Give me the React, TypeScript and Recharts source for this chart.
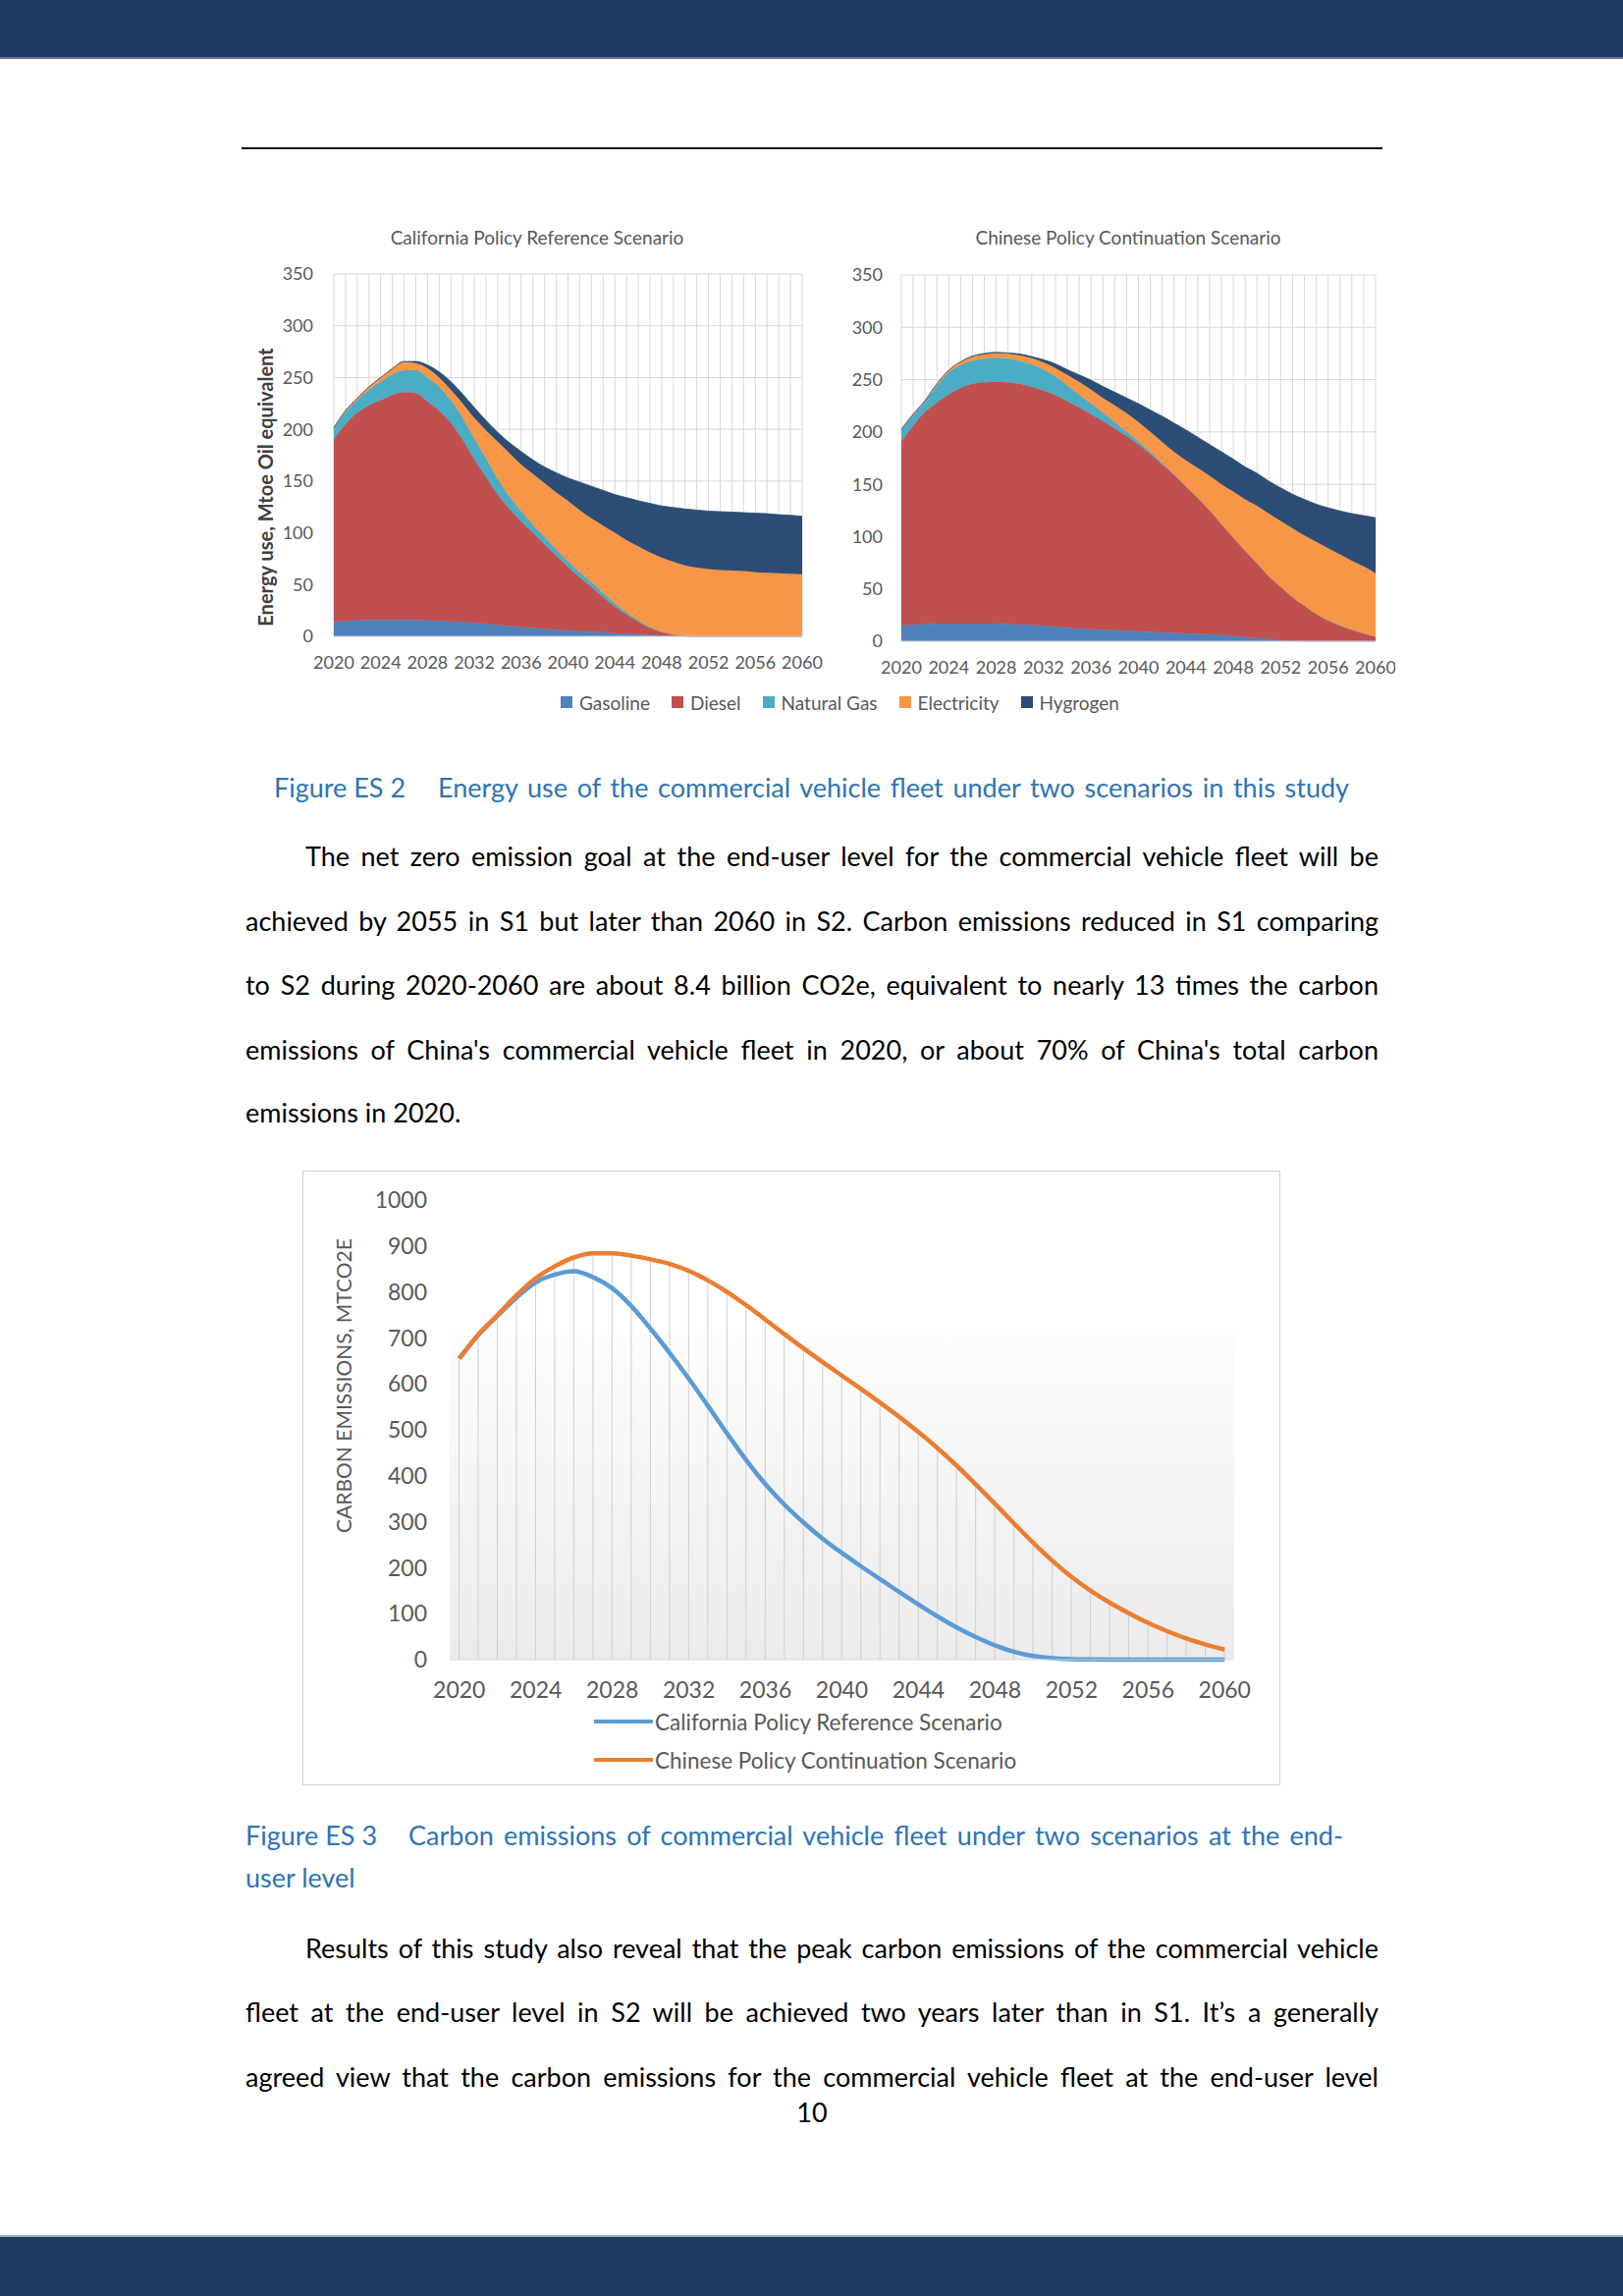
import React from "react";
import {
  AreaChart,
  Area,
  XAxis,
  YAxis,
  CartesianGrid,
  ComposedChart,
  Line,
  Bar,
  ReferenceArea,
} from "recharts";

const FONT = "Lato, 'Open Sans', sans-serif";
const AXIS_GREY = "#595959";
const GRID = "#d9d9d9";
const NAVY = "#1F3864";
const CAPTION = "#2E74B5";

// categories
const years = [
  2020, 2021, 2022, 2023, 2024, 2025, 2026, 2027, 2028, 2029, 2030,
  2031, 2032, 2033, 2034, 2035, 2036, 2037, 2038, 2039, 2040,
  2041, 2042, 2043, 2044, 2045, 2046, 2047, 2048, 2049, 2050,
  2051, 2052, 2053, 2054, 2055, 2056, 2057, 2058, 2059, 2060,
];

// Figure ES 2, California Policy Reference Scenario (Mtoe)
const caGasoline = [
  14, 15, 15.5, 16, 16, 16, 16, 16, 15.5, 15, 14.5,
  14, 13, 12, 11, 10, 9, 8, 7, 6.5, 6,
  5, 4.5, 4, 3, 2.5, 2, 1.5, 1, 0.5, 0.3,
  0, 0, 0, 0, 0, 0, 0, 0, 0, 0,
];
const caDiesel = [
  176, 190, 200.5, 207, 212, 217, 220, 219, 211.5, 203, 191.5,
  176, 158, 142, 126, 113, 102, 92, 82, 71.5, 61,
  52, 43.5, 34, 26, 18.5, 12, 6.5, 3, 1, 0,
  0, 0, 0, 0, 0, 0, 0, 0, 0, 0,
];
const caNaturalGas = [
  11, 11.5, 12, 15, 18, 20, 21, 22, 23, 23, 22,
  21, 20, 18, 15, 12, 10, 8, 7, 6, 5.5,
  5, 4.5, 4, 3, 2, 1.5, 1, 0.5, 0.2, 0,
  0, 0, 0, 0, 0, 0, 0, 0, 0, 0,
];
const caElectricity = [
  0.5, 1.5, 2, 3, 4, 5.5, 8, 7, 9, 9, 10,
  14, 20, 27, 36, 42, 45, 49, 52, 55, 58.5,
  60, 61.5, 65, 68, 70, 71.5, 72, 71.5, 70.3, 68.2,
  66.5, 65, 64, 63.5, 63, 62, 61.5, 61, 60.5, 60,
];
const caHydrogen = [
  0, 0, 0, 0, 0, 0.2, 0.5, 1.5, 3, 5.5, 8,
  9, 10, 9.5, 9, 10, 12.5, 13.5, 15.5, 19, 22,
  27, 31, 34, 37, 41, 44, 47.5, 50, 52.5, 54.5,
  55.5, 56, 56.5, 56.5, 56.5, 57, 57, 56.5, 56.5, 56,
];

// Figure ES 2, Chinese Policy Continuation Scenario (Mtoe)
const cnGasoline = [
  15, 16, 16.5, 17, 17, 17, 17, 17, 17, 16.5, 16,
  15.5, 15, 14, 13, 12, 11.5, 11, 10.5, 10, 9.5,
  9, 8.5, 8, 7.5, 7, 6.5, 6, 5, 4, 3,
  2, 1, 0.5, 0.2, 0, 0, 0, 0, 0, 0,
];
const cnDiesel = [
  176, 190, 202.5, 211, 219, 225, 229, 230.5, 231, 231, 230,
  227.5, 224.5, 221, 216.5, 211.5, 205.5, 199.5, 193, 186, 178.5,
  170, 160.5, 151, 140.5, 130, 118.5, 106, 94, 82.5, 71.5,
  60, 51, 41.5, 33.8, 26, 20, 15, 11, 7.5, 4.4,
];
const cnNaturalGas = [
  11, 10, 10, 16, 21, 22, 22, 22.5, 23, 22.5, 22,
  21.5, 20, 18, 15, 12, 10, 8, 6, 4, 3,
  2, 1, 0.5, 0, 0, 0, 0, 0, 0, 0,
  0, 0, 0, 0, 0, 0, 0, 0, 0, 0,
];
const cnElectricity = [
  0.5, 1, 1, 2, 2, 3, 4, 4, 4.5, 5, 5,
  6, 7, 8, 10, 12.5, 13.5, 14, 16, 18, 18.5,
  19, 20.5, 21.5, 25, 28.5, 33, 38, 44, 49, 55,
  60, 63, 66, 67, 69, 69, 68, 66, 64, 60.6,
];
const cnHydrogen = [
  0, 0, 0, 0, 0, 0, 0.5, 1, 0.5, 0.5, 1.5,
  1.5, 2.5, 4, 5, 6.5, 9, 11, 12.5, 14.5, 17.5,
  21, 24.5, 27.5, 29, 29.5, 30, 31, 31, 31, 31,
  31, 31.5, 32.5, 34.5, 36, 38.5, 41.5, 45, 48.5, 53,
];

// Figure ES 3, carbon emissions (MtCO2e)
const caEmissions = [
  655, 707, 748, 788, 821, 838, 845, 832, 808, 769, 720,
  667, 611, 552, 492, 434, 382, 337, 298, 263, 232,
  203, 175, 147, 120, 94, 70, 49, 31, 17, 8,
  3, 1, 0.3, 0, 0, 0, 0, 0, 0, 0,
];
const cnEmissions = [
  655, 707, 750, 793, 830, 856, 875, 884, 884, 879, 871,
  861, 846, 825, 800, 771, 740, 708, 677, 647, 618,
  589, 559, 528, 495, 460, 422, 381, 339, 296, 254,
  215, 180, 150, 124, 101, 80, 62, 46, 33, 22,
];

const energyTicks = [0, 50, 100, 150, 200, 250, 300, 350];
const emissionTicks = [0, 100, 200, 300, 400, 500, 600, 700, 800, 900, 1000];

const fuelKeys = ["gasoline", "diesel", "naturalGas", "electricity", "hydrogen"];
const fuelNames = ["Gasoline", "Diesel", "Natural Gas", "Electricity", "Hygrogen"];
const fuelColors = ["#4F81BD", "#C0504D", "#4BACC6", "#F79646", "#2C4D75"];

const caEnergy = years.map((year, i) => ({
  year,
  gasoline: caGasoline[i],
  diesel: caDiesel[i],
  naturalGas: caNaturalGas[i],
  electricity: caElectricity[i],
  hydrogen: caHydrogen[i],
}));
const cnEnergy = years.map((year, i) => ({
  year,
  gasoline: cnGasoline[i],
  diesel: cnDiesel[i],
  naturalGas: cnNaturalGas[i],
  electricity: cnElectricity[i],
  hydrogen: cnHydrogen[i],
}));
const emissionData = years.map((year, i) => ({
  year,
  ca: caEmissions[i],
  cn: cnEmissions[i],
  drop: Math.max(caEmissions[i], cnEmissions[i]),
}));

const yearTick = (size: number) => (props: any) => {
  const { x, y, payload } = props;
  if (Number(payload.value) % 4 !== 0) return <g />;
  return (
    <text
      x={x}
      y={y}
      dy="0.71em"
      textAnchor="middle"
      fontSize={size}
      fill={AXIS_GREY}
      fontFamily={FONT}
    >
      {payload.value}
    </text>
  );
};

function EnergyChart({ data, left, width, margin, tickGap }: any) {
  return (
    <div style={{ position: "absolute", left, top: 220 }}>
      <AreaChart width={width} height={480} data={data} margin={margin}>
        <CartesianGrid stroke={GRID} strokeWidth={1} />
        <XAxis
          dataKey="year"
          interval={0}
          tick={yearTick(18)}
          tickLine={false}
          axisLine={{ stroke: GRID }}
          tickMargin={14}
          height={30}
        />
        <YAxis
          type="number"
          domain={[0, 350]}
          ticks={energyTicks}
          width={60}
          tick={{ fontSize: 18, fill: AXIS_GREY, fontFamily: FONT }}
          tickLine={false}
          axisLine={false}
          tickMargin={tickGap}
        />
        {fuelKeys.map((k, i) => (
          <Area
            key={k}
            dataKey={k}
            name={fuelNames[i]}
            stackId="fuel"
            type="monotone"
            fill={fuelColors[i]}
            fillOpacity={1}
            stroke={fuelColors[i]}
            strokeWidth={0.8}
            dot={false}
            activeDot={false}
            isAnimationActive={false}
          />
        ))}
      </AreaChart>
    </div>
  );
}

function Abs({ left, top, style, children }: any) {
  return (
    <div style={{ position: "absolute", left, top, whiteSpace: "nowrap", ...style }}>
      {children}
    </div>
  );
}

// one line of body text, centred on cy
function TextRow({ cy, left = 250, right = 1404, justify = true, color = "#000", children }: any) {
  return (
    <div
      style={{
        position: "absolute",
        left,
        top: cy - 20,
        width: right - left,
        height: 40,
        lineHeight: "40px",
        fontSize: 27,
        color,
        whiteSpace: "nowrap",
        textAlign: justify ? "justify" : "left",
        textAlignLast: justify ? "justify" : "left",
      }}
    >
      {children}
    </div>
  );
}

function Caption({ cy, left, textLeft, right, label, children }: any) {
  return (
    <>
      <TextRow cy={cy} left={left} justify={false} color={CAPTION}>
        {label}
      </TextRow>
      <TextRow cy={cy} left={textLeft} right={right} color={CAPTION}>
        {children}
      </TextRow>
    </>
  );
}

function RotatedLabel({ cx, cy, style, children }: any) {
  return (
    <div
      style={{
        position: "absolute",
        left: cx,
        top: cy,
        transform: "translate(-50%, -50%) rotate(-90deg)",
        whiteSpace: "nowrap",
        ...style,
      }}
    >
      {children}
    </div>
  );
}

export default function App() {
  return (
    <div
      style={{
        position: "absolute",
        left: 0,
        top: 0,
        width: 1653,
        height: 2338,
        background: "#fff",
        overflow: "hidden",
        fontFamily: FONT,
      }}
    >
      {/* page furniture */}
      <div style={{ position: "absolute", left: 0, top: 0, width: 1653, height: 58, background: NAVY }} />
      <div style={{ position: "absolute", left: 0, top: 58, width: 1653, height: 2, background: "#5b6f94" }} />
      <div style={{ position: "absolute", left: 246, top: 150, width: 1162, height: 2, background: "#111" }} />
      <div style={{ position: "absolute", left: 0, top: 2276, width: 1653, height: 2, background: "#9aabbf" }} />
      <div style={{ position: "absolute", left: 0, top: 2278, width: 1653, height: 60, background: NAVY }} />

      {/* Figure ES 2 */}
      <Abs left={547} top={230} style={{ transform: "translateX(-50%)", fontSize: 19, color: AXIS_GREY }}>
        California Policy Reference Scenario
      </Abs>
      <Abs left={1149} top={230} style={{ transform: "translateX(-50%)", fontSize: 19, color: AXIS_GREY }}>
        Chinese Policy Continuation Scenario
      </Abs>
      <RotatedLabel cx={270} cy={496} style={{ fontSize: 20, fontWeight: 700, color: "#404040" }}>
        Energy use, Mtoe Oil equivalent
      </RotatedLabel>
      <EnergyChart
        data={caEnergy}
        left={250}
        width={590}
        margin={{ top: 59, right: 23, bottom: 22, left: 30 }}
        tickGap={15}
      />
      <EnergyChart
        data={cnEnergy}
        left={850}
        width={571}
        margin={{ top: 60, right: 20, bottom: 17, left: 8 }}
        tickGap={13}
      />
      <div
        style={{
          position: "absolute",
          left: 571,
          top: 702,
          height: 26,
          display: "flex",
          alignItems: "center",
          fontSize: 19,
          color: AXIS_GREY,
          whiteSpace: "nowrap",
        }}
      >
        {fuelNames.map((n, i) => (
          <div key={n} style={{ display: "flex", alignItems: "center", marginRight: 22 }}>
            <span style={{ width: 12, height: 12, background: fuelColors[i], marginRight: 7 }} />
            <span>{n}</span>
          </div>
        ))}
      </div>
      <Caption cy={802} left={279} textLeft={446} right={1374} label="Figure ES 2">
        Energy use of the commercial vehicle fleet under two scenarios in this study
      </Caption>

      <TextRow cy={872} left={311}>
        The net zero emission goal at the end-user level for the commercial vehicle fleet will be
      </TextRow>
      <TextRow cy={938}>
        achieved by 2055 in S1 but later than 2060 in S2. Carbon emissions reduced in S1 comparing
      </TextRow>
      <TextRow cy={1003}>
        to S2 during 2020-2060 are about 8.4 billion CO2e, equivalent to nearly 13 times the carbon
      </TextRow>
      <TextRow cy={1069}>
        emissions of China's commercial vehicle fleet in 2020, or about 70% of China's total carbon
      </TextRow>
      <TextRow cy={1133} justify={false}>
        emissions in 2020.
      </TextRow>

      {/* Figure ES 3 */}
      <div
        style={{
          position: "absolute",
          left: 308,
          top: 1192,
          width: 994,
          height: 624,
          border: "1.5px solid #d0d0d0",
        }}
      />
      <RotatedLabel cx={349} cy={1411} style={{ fontSize: 21, color: AXIS_GREY }}>
        CARBON EMISSIONS, MTCO2E
      </RotatedLabel>
      <div style={{ position: "absolute", left: 309, top: 1193 }}>
        <ComposedChart
          width={994}
          height={624}
          data={emissionData}
          margin={{ top: 29, right: 46, bottom: 87, left: 89 }}
        >
          <defs>
            <linearGradient id="plotShade" x1="0" y1="0" x2="0" y2="1">
              <stop offset="0%" stopColor="#fdfdfd" />
              <stop offset="100%" stopColor="#ebebeb" />
            </linearGradient>
          </defs>
          <XAxis
            dataKey="year"
            interval={3}
            tick={yearTick(23)}
            tickLine={false}
            axisLine={{ stroke: GRID }}
            tickMargin={17}
            height={40}
          />
          <YAxis
            type="number"
            domain={[0, 1000]}
            ticks={emissionTicks}
            width={60}
            tick={{ fontSize: 23, fill: AXIS_GREY, fontFamily: FONT }}
            tickLine={false}
            axisLine={false}
            tickMargin={17}
          />
          <ReferenceArea
            y1={0}
            y2={710}
            fill="url(#plotShade)"
            fillOpacity={1}
            stroke="none"
            ifOverflow="visible"
          />
          <Bar dataKey="drop" barSize={1} fill="#cfcfcf" isAnimationActive={false} />
          <Line
            dataKey="ca"
            name="California Policy Reference Scenario"
            type="monotone"
            stroke="#5B9BD5"
            strokeWidth={4.5}
            dot={false}
            activeDot={false}
            isAnimationActive={false}
          />
          <Line
            dataKey="cn"
            name="Chinese Policy Continuation Scenario"
            type="monotone"
            stroke="#ED7D31"
            strokeWidth={4.5}
            dot={false}
            activeDot={false}
            isAnimationActive={false}
          />
        </ComposedChart>
      </div>
      {[
        { cy: 1753, color: "#5B9BD5", label: "California Policy Reference Scenario" },
        { cy: 1792, color: "#ED7D31", label: "Chinese Policy Continuation Scenario" },
      ].map((item) => (
        <div
          key={item.label}
          style={{
            position: "absolute",
            left: 605,
            top: item.cy - 15,
            height: 30,
            display: "flex",
            alignItems: "center",
            fontSize: 22.5,
            color: AXIS_GREY,
            whiteSpace: "nowrap",
          }}
        >
          <span style={{ width: 60, height: 4.5, background: item.color, marginRight: 2 }} />
          <span>{item.label}</span>
        </div>
      ))}

      <Caption cy={1869} left={250} textLeft={416} right={1368} label="Figure ES 3">
        Carbon emissions of commercial vehicle fleet under two scenarios at the end-
      </Caption>
      <TextRow cy={1912} justify={false} color={CAPTION}>
        user level
      </TextRow>

      <TextRow cy={1984} left={311}>
        Results of this study also reveal that the peak carbon emissions of the commercial vehicle
      </TextRow>
      <TextRow cy={2049}>
        fleet at the end-user level in S2 will be achieved two years later than in S1. It’s a generally
      </TextRow>
      <TextRow cy={2115}>
        agreed view that the carbon emissions for the commercial vehicle fleet at the end-user level
      </TextRow>
      <Abs left={827} top={2131} style={{ transform: "translateX(-50%)", fontSize: 27, lineHeight: "40px", color: "#000" }}>
        10
      </Abs>
    </div>
  );
}
